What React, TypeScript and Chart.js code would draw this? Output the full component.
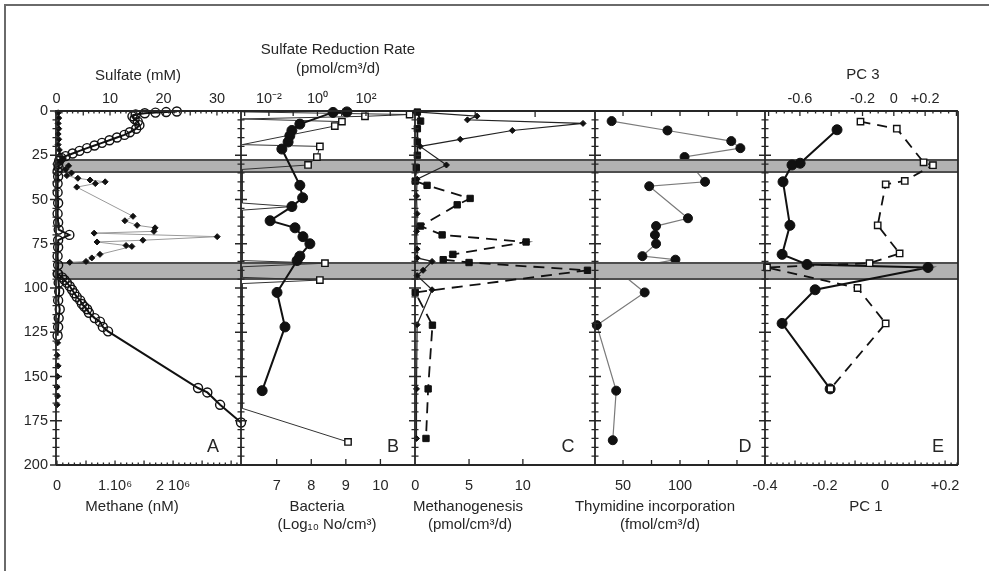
import React, { useEffect, useRef } from "react";
import { Chart, registerables } from "chart.js";

Chart.register(...registerables);

const FONT_FAMILY = "'Liberation Sans', Arial, Helvetica, sans-serif";
const INK = "#262626";
const PLOT_TOP = 111;
const PLOT_BOTTOM = 465;
const H = 571;

// ---------------- shared depth axis ----------------
const depthLabels = [0, 25, 50, 75, 100, 125, 150, 175, 200];
const bandTopDepth = [27.7, 85.9];
const bandBottomDepth = [34.5, 94.9];

// ---------------- Panel A ----------------
const sulfateDepth = [0.3, 0.6, 0.9, 1.3, 2.0, 3.0, 4.5, 6.0, 8.0, 10.0, 12.0, 13.5, 15.0, 16.5, 18.0, 19.5, 21.0, 22.5, 24.0, 25.5, 26.5, 28.0, 30.0, 32.0, 34.0, 37.0, 41.0, 46.0, 52.0, 58.0, 63.0, 67.0, 70.0, 73.0, 77.0, 82.0, 87.0, 92.0, 97.0, 102.0, 107.0, 112.0, 117.0, 122.0, 127.0];
const sulfateMM = [22.5, 20.5, 18.5, 16.5, 14.8, 14.2, 14.6, 15.2, 15.5, 14.9, 13.7, 12.7, 11.3, 9.9, 8.5, 7.1, 5.7, 4.3, 3.0, 1.7, 0.9, 0.5, 0.3, 0.4, 0.2, 0.3, 0.2, 0.2, 0.3, 0.2, 0.3, 0.4, 2.4, 0.3, 0.3, 0.2, 0.3, 0.2, 0.4, 0.5, 0.3, 0.6, 0.4, 0.3, 0.2];
const sulfateDeepDepth = [131, 138, 144, 150, 156, 161, 166];
const sulfateDeepMM = [0.2, 0.1, 0.3, 0.2, 0.1, 0.2, 0.1];
const methaneDepth = [92, 94, 95.5, 97, 99, 101, 103, 105, 107, 109, 110.5, 112, 114, 117, 119, 122, 124.5, 156.5, 159, 166, 176];
const methaneNM = [0.02e6, 0.09e6, 0.13e6, 0.17e6, 0.22e6, 0.26e6, 0.3e6, 0.34e6, 0.4e6, 0.43e6, 0.47e6, 0.52e6, 0.55e6, 0.65e6, 0.74e6, 0.79e6, 0.88e6, 2.43e6, 2.59e6, 2.81e6, 3.17e6];
const methane2Depth = [1, 4, 7, 10, 13, 16, 19, 22, 25, 27, 29, 31, 33, 35, 36.5, 38, 39, 40, 41, 43, 59.5, 62, 64.6, 66, 68, 69, 71, 73, 74, 76, 76.5, 81, 83, 85, 85.5];
const methane2NM = [0.02e6, 0.03e6, 0.02e6, 0.03e6, 0.02e6, 0.03e6, 0.02e6, 0.04e6, 0.05e6, 0.1e6, 0.05e6, 0.2e6, 0.15e6, 0.25e6, 0.17e6, 0.36e6, 0.57e6, 0.83e6, 0.66e6, 0.34e6, 1.31e6, 1.17e6, 1.38e6, 1.69e6, 1.67e6, 0.64e6, 2.76e6, 1.48e6, 0.69e6, 1.19e6, 1.29e6, 0.74e6, 0.6e6, 0.5e6, 0.22e6];
const sulfateTickValues = [0, 10, 20, 30];
const methaneTickValues = [0, 1e6, 2e6];
const methaneTickText = ["0", "1.10\u2076", "2 10\u2076"];

// ---------------- Panel B ----------------
const bacteriaDepth = [0.5, 0.8, 7.4, 11, 14, 17.5, 21.5, 42, 49, 54, 62, 66, 71, 75, 82, 84.5, 102.5, 122, 158];
const bacteriaLog = [9.03, 8.63, 7.67, 7.44, 7.38, 7.33, 7.15, 7.67, 7.75, 7.44, 6.81, 7.53, 7.76, 7.96, 7.67, 7.59, 7.01, 7.24, 6.58];
const srrDepth = [0.5, 2, 3, 4.5, 6, 8.5, 19, 20, 26, 30.5, 33, 52, 54, 56, 84.5, 86, 88, 94, 95.5, 97.5, 168, 187];
const srrRate = [8e-4, 6300, 91, 8e-4, 10.2, 5.2, 8e-4, 1.26, 0.95, 0.41, 8e-4, 8e-4, 0.089, 8e-4, 8e-4, 2.04, 8e-4, 8e-4, 1.26, 8e-4, 8e-4, 18.2];
const bacteriaTickValues = [7, 8, 9, 10];
const srrTickValues = [0.01, 1, 100];
const srrTickText = ["10\u207B\u00B2", "10\u2070", "10\u00B2"];

// ---------------- Panel C ----------------
const methanogenesisDepth = [0.6, 5.7, 10, 17.5, 25, 32, 39.6, 42, 49.4, 53, 65, 70, 74, 81, 84, 85.6, 90, 102.5, 121, 157, 185];
const methanogenesisRate = [0.2, 0.5, 0.2, 0.2, 0.2, 0.1, 0, 1.1, 5.1, 3.9, 0.5, 2.5, 10.3, 3.5, 2.6, 5.0, 16.0, 0, 1.6, 1.2, 1.0];
const diamondCDepth = [0.5, 2.9, 5, 7, 11, 16, 20, 30.5, 38.5, 48, 58, 68, 78, 83, 85, 90, 93, 101, 120.7, 157, 185];
const diamondCValue = [0, 1.03, 0.87, 2.8, 1.62, 0.75, 0.08, 0.52, 0.03, 0.02, 0.03, 0.02, 0.03, 0.03, 0.28, 0.13, 0.03, 0.28, 0.03, 0.02, 0.02];
const methanogenesisTickValues = [0, 5, 10];

// ---------------- Panel D ----------------
const thymidineDepth = [5.7, 11, 17, 21, 26, 40, 42.5, 60.6, 65, 70, 75, 82, 84, 90, 102.5, 121, 158, 186];
const thymidineRate = [40, 89, 145, 153, 104, 122, 73, 107, 79, 78, 79, 67, 96, 45, 69, 27, 44, 41];
const thymidineTickValues = [50, 100];

// ---------------- Panel E ----------------
const pc1Depth = [10.6, 29.5, 30.5, 40, 64.6, 81, 86.7, 88.4, 101, 120, 157];
const pc1Value = [-0.16, -0.283, -0.31, -0.34, -0.317, -0.343, -0.26, 0.143, -0.233, -0.343, -0.183];
const pc3Depth = [6, 10, 29, 30.6, 39.5, 41.4, 64.6, 80.5, 86, 88.4, 100, 120, 157];
const pc3Value = [-0.213, 0.019, 0.19, 0.25, 0.07, -0.052, -0.103, 0.037, -0.155, -0.81, -0.232, -0.052, -0.405];
const pc1TickValues = [-0.4, -0.2, 0, 0.2];
const pc1TickText = ["-0.4", "-0.2", "0", "+0.2"];
const pc3TickValues = [-0.6, -0.2, 0, 0.2];
const pc3TickText = ["-0.6", "-0.2", "0", "+0.2"];

// ---------------- helpers ----------------
type Mark = { value: number; len: number };
type AxisSpec = {
  type: "linear" | "logarithmic";
  min: number;
  max: number;
  labels: number[];
  texts?: string[];
  marks: Mark[];
  showLabels?: boolean;
};
type Caption = { text: string; x: number; y: number; size?: number };
type PanelSpec = {
  key: string;
  left: number;
  width: number;
  lm: number;
  rm: number;
  showDepth: boolean;
  last: boolean;
  bandOverData: boolean;
  bottom: AxisSpec;
  top: AxisSpec;
  datasets: any[];
  captions: Caption[];
};

const zip = (depths: number[], values: number[]) => values.map((v, i) => ({ x: v, y: depths[i] }));

function linearMarks(from: number, to: number, step: number, majorEvery: number, minorLen: number, majorLen: number): Mark[] {
  const out: Mark[] = [];
  const n = Math.round((to - from) / step);
  for (let i = 0; i <= n; i++) out.push({ value: from + i * step, len: i % majorEvery === 0 ? majorLen : minorLen });
  return out;
}
function listMarks(values: number[], len: number): Mark[] {
  return values.map((v) => ({ value: v, len }));
}

const OPEN_CIRCLE = { pointStyle: "circle", pointRadius: 4.5, pointBorderWidth: 1.4, pointBackgroundColor: "rgba(255,255,255,0)", pointBorderColor: "#111" };
const FILLED_CIRCLE = { pointStyle: "circle", pointRadius: 5, pointBorderWidth: 1, pointBackgroundColor: "#111", pointBorderColor: "#111" };
const OPEN_SQUARE = { pointStyle: "rect", pointRadius: 4.5, pointBorderWidth: 1.4, pointBackgroundColor: "#fff", pointBorderColor: "#111" };
const FILLED_SQUARE = { pointStyle: "rect", pointRadius: 4.5, pointBorderWidth: 1, pointBackgroundColor: "#111", pointBorderColor: "#111" };
const SMALL_DIAMOND = { pointStyle: "rectRot", pointRadius: 3, pointBorderWidth: 1, pointBackgroundColor: "#111", pointBorderColor: "#111" };

function series(data: any[], xAxisID: string, marker: any, line: any) {
  return { data, xAxisID, yAxisID: "y", showLine: true, tension: 0, clip: false, ...marker, ...line };
}

const PANELS: PanelSpec[] = [
  {
    key: "A",
    left: 0,
    width: 271,
    lm: 56,
    rm: 30,
    showDepth: true,
    last: false,
    bandOverData: false,
    bottom: { type: "linear", min: -0.017e6, max: 3.17e6, labels: methaneTickValues, texts: methaneTickText, marks: linearMarks(0, 3.1e6, 0.1e6, 5, 2.5, 4.5) },
    top: { type: "linear", min: -0.1, max: 34.5, labels: sulfateTickValues, marks: linearMarks(0, 34, 1, 5, 2.5, 4.5) },
    datasets: [
      series(zip(sulfateDepth, sulfateMM), "x2", OPEN_CIRCLE, { borderColor: "#111", borderWidth: 2 }),
      series(zip(methaneDepth, methaneNM), "x", OPEN_CIRCLE, { borderColor: "#111", borderWidth: 2 }),
      series(zip(methane2Depth, methane2NM), "x", SMALL_DIAMOND, { borderColor: "#9a9a9a", borderWidth: 1 }),
      series(zip(sulfateDeepDepth, sulfateDeepMM), "x2", SMALL_DIAMOND, { showLine: false }),
    ],
    captions: [
      { text: "Sulfate (mM)", x: 138, y: 76 },
      { text: "Methane (nM)", x: 132, y: 507 },
      { text: "A", x: 213, y: 447, size: 18 },
    ],
  },
  {
    key: "B",
    left: 201,
    width: 244,
    lm: 40,
    rm: 30,
    showDepth: false,
    last: false,
    bandOverData: false,
    bottom: { type: "linear", min: 5.968, max: 11.0, labels: bacteriaTickValues, marks: listMarks(bacteriaTickValues, 6) },
    top: { type: "logarithmic", min: Math.pow(10, -3.15), max: Math.pow(10, 4.02), labels: srrTickValues, texts: srrTickText, marks: listMarks([1e-3, 1e-2, 1e-1, 1, 10, 100, 1000], 5) },
    datasets: [
      series(zip(bacteriaDepth, bacteriaLog), "x", FILLED_CIRCLE, { borderColor: "#111", borderWidth: 2 }),
      series(zip(srrDepth, srrRate), "x2", { ...OPEN_SQUARE, pointRadius: (c: any) => (c.raw && c.raw.x < 1e-3 ? 0 : 4.5) }, { borderColor: "#333", borderWidth: 1 }),
    ],
    captions: [
      { text: "Sulfate Reduction Rate", x: 338, y: 50 },
      { text: "(pmol/cm\u00B3/d)", x: 338, y: 69 },
      { text: "Bacteria", x: 317, y: 507 },
      { text: "(Log\u2081\u2080 No/cm\u00B3)", x: 327, y: 525 },
      { text: "B", x: 393, y: 447, size: 18 },
    ],
  },
  {
    key: "C",
    left: 375,
    width: 250,
    lm: 40,
    rm: 30,
    showDepth: false,
    last: false,
    bandOverData: false,
    bottom: { type: "linear", min: -0.02, max: 16.7, labels: methanogenesisTickValues, marks: listMarks([5, 10], 6) },
    top: { type: "linear", min: -0.005, max: 3.0, labels: [], marks: listMarks([1, 2], 6), showLabels: false },
    datasets: [
      series(zip(methanogenesisDepth, methanogenesisRate), "x", FILLED_SQUARE, { borderColor: "#111", borderWidth: 1.8, borderDash: [11, 7] }),
      series(zip(diamondCDepth, diamondCValue), "x2", SMALL_DIAMOND, { borderColor: "#222", borderWidth: 1.2 }),
    ],
    captions: [
      { text: "Methanogenesis", x: 468, y: 507 },
      { text: "(pmol/cm\u00B3/d)", x: 470, y: 525 },
      { text: "C", x: 568, y: 447, size: 18 },
    ],
  },
  {
    key: "D",
    left: 555,
    width: 240,
    lm: 40,
    rm: 30,
    showDepth: false,
    last: false,
    bandOverData: true,
    bottom: { type: "linear", min: 25.4, max: 174.6, labels: thymidineTickValues, marks: listMarks([50, 75, 100, 125, 150], 5) },
    top: { type: "linear", min: 25.4, max: 174.6, labels: [], marks: listMarks([50, 75, 100, 125, 150], 5), showLabels: false },
    datasets: [
      series(zip(thymidineDepth, thymidineRate), "x", { ...FILLED_CIRCLE, pointRadius: 4.5 }, { borderColor: "#7a7a7a", borderWidth: 1.2 }),
    ],
    captions: [
      { text: "Thymidine incorporation", x: 655, y: 507 },
      { text: "(fmol/cm\u00B3/d)", x: 660, y: 525 },
      { text: "D", x: 745, y: 447, size: 18 },
    ],
  },
  {
    key: "E",
    left: 725,
    width: 264,
    lm: 40,
    rm: 31,
    showDepth: false,
    last: true,
    bandOverData: false,
    bottom: { type: "linear", min: -0.4, max: 0.243, labels: pc1TickValues, texts: pc1TickText, marks: linearMarks(-0.4, 0.24, 0.02, 5, 2.5, 4.5) },
    top: { type: "linear", min: -0.823, max: 0.41, labels: pc3TickValues, texts: pc3TickText, marks: linearMarks(-0.8, 0.4, 0.05, 4, 2.5, 5) },
    datasets: [
      series(zip(pc3Depth, pc3Value), "x2", OPEN_SQUARE, { borderColor: "#111", borderWidth: 1.8, borderDash: [10, 7] }),
      series(zip(pc1Depth, pc1Value), "x", FILLED_CIRCLE, { borderColor: "#111", borderWidth: 2 }),
    ],
    captions: [
      { text: "PC 3", x: 863, y: 75 },
      { text: "PC 1", x: 866, y: 507 },
      { text: "E", x: 938, y: 447, size: 18 },
    ],
  },
];

function matchLabel(ax: AxisSpec, value: number): string {
  const i = ax.labels.findIndex((l) => Math.abs(l - value) <= 1e-9 * Math.max(1, Math.abs(l)));
  if (i < 0) return "";
  return ax.texts ? ax.texts[i] : String(ax.labels[i]);
}

function xScale(ax: AxisSpec, position: "top" | "bottom", heightPx: number) {
  return {
    type: ax.type,
    position,
    min: ax.min,
    max: ax.max,
    bounds: "data",
    grid: { display: false, drawTicks: false },
    border: { display: false },
    ticks: {
      display: ax.showLabels !== false,
      autoSkip: false,
      maxRotation: 0,
      minRotation: 0,
      padding: position === "top" ? 3 : 12,
      color: INK,
      font: { family: FONT_FAMILY, size: 14.5 },
      callback: (value: any) => matchLabel(ax, Number(value)),
    },
    afterBuildTicks: (s: any) => {
      s.ticks = ax.labels.map((v) => ({ value: v }));
    },
    afterFit: (s: any) => {
      s.height = heightPx;
    },
  };
}

function drawBands(chart: any) {
  const { ctx, chartArea: a } = chart;
  const ys = chart.scales.y;
  ctx.save();
  for (let i = 0; i < bandTopDepth.length; i++) {
    const y0 = ys.getPixelForValue(bandTopDepth[i]);
    const y1 = ys.getPixelForValue(bandBottomDepth[i]);
    ctx.fillStyle = "#b2b2b2";
    ctx.fillRect(a.left, y0, a.right - a.left, y1 - y0);
    ctx.strokeStyle = "#4e4e4e";
    ctx.lineWidth = 2;
    ctx.beginPath();
    ctx.moveTo(a.left, y0);
    ctx.lineTo(a.right, y0);
    ctx.moveTo(a.left, y1);
    ctx.lineTo(a.right, y1);
    ctx.stroke();
  }
  ctx.restore();
}

function decoPlugin(p: PanelSpec) {
  return {
    id: "deco" + p.key,
    beforeDatasetsDraw(chart: any) {
      if (!p.bandOverData) drawBands(chart);
    },
    afterDatasetsDraw(chart: any) {
      if (p.bandOverData) drawBands(chart);
      const { ctx, chartArea: a, scales } = chart;
      ctx.save();
      ctx.strokeStyle = INK;
      ctx.lineWidth = 1.8;
      ctx.beginPath();
      ctx.moveTo(a.left, a.bottom);
      ctx.lineTo(a.left, a.top);
      ctx.lineTo(a.right, a.top);
      ctx.moveTo(a.left, a.bottom);
      ctx.lineTo(a.right, a.bottom);
      if (p.last) {
        ctx.moveTo(a.right, a.top);
        ctx.lineTo(a.right, a.bottom);
      }
      ctx.stroke();
      ctx.lineWidth = 1.3;
      ctx.beginPath();
      for (let d = 0; d <= 200; d += 5) {
        const y = scales.y.getPixelForValue(d);
        const len = d % 25 === 0 ? 6 : 3.5;
        ctx.moveTo(a.left - len, y);
        ctx.lineTo(a.left + len, y);
      }
      for (const m of p.bottom.marks) {
        const x = scales.x.getPixelForValue(m.value);
        ctx.moveTo(x, a.bottom);
        ctx.lineTo(x, a.bottom - m.len);
      }
      for (const m of p.top.marks) {
        const x = scales.x2.getPixelForValue(m.value);
        ctx.moveTo(x, a.top);
        ctx.lineTo(x, a.top + m.len);
      }
      ctx.stroke();
      ctx.fillStyle = INK;
      ctx.textAlign = "center";
      ctx.textBaseline = "middle";
      for (const c of p.captions) {
        ctx.font = `${c.size ?? 15}px ${FONT_FAMILY}`;
        ctx.fillText(c.text, c.x - p.left, c.y);
      }
      ctx.restore();
    },
  };
}

function buildConfig(p: PanelSpec): any {
  return {
    type: "scatter",
    data: { datasets: p.datasets },
    options: {
      animation: false,
      responsive: false,
      maintainAspectRatio: false,
      devicePixelRatio: 1,
      events: [],
      layout: { padding: { left: 0, right: p.rm, top: 0, bottom: 0 } },
      plugins: { legend: { display: false }, tooltip: { enabled: false }, title: { display: false } },
      scales: {
        y: {
          type: "linear",
          position: "left",
          reverse: true,
          min: 0,
          max: 200,
          bounds: "data",
          grid: { display: false, drawTicks: false },
          border: { display: false },
          ticks: { display: p.showDepth, autoSkip: false, padding: 8, color: INK, font: { family: FONT_FAMILY, size: 14.5 } },
          afterBuildTicks: (s: any) => {
            s.ticks = depthLabels.map((v) => ({ value: v }));
          },
          afterFit: (s: any) => {
            s.width = p.lm;
          },
        },
        x: xScale(p.bottom, "bottom", H - PLOT_BOTTOM),
        x2: xScale(p.top, "top", PLOT_TOP),
      },
    },
    plugins: [decoPlugin(p)],
  };
}

function PanelCanvas({ spec }: { spec: PanelSpec }) {
  const ref = useRef<HTMLCanvasElement>(null);
  useEffect(() => {
    const chart = new Chart(ref.current as HTMLCanvasElement, buildConfig(spec));
    return () => chart.destroy();
  }, [spec]);
  return (
    <canvas
      ref={ref}
      width={spec.width}
      height={H}
      style={{ position: "absolute", left: spec.left, top: 0, width: spec.width, height: H }}
    />
  );
}

export default function App() {
  return (
    <div style={{ position: "absolute", left: 0, top: 0, width: 989, height: 571, overflow: "hidden", background: "#fff" }}>
      <div style={{ position: "absolute", left: 4, top: 4, width: 1100, height: 800, borderLeft: "2px solid #6a6a6a", borderTop: "2px solid #6a6a6a" }} />
      {PANELS.map((p) => (
        <PanelCanvas key={p.key} spec={p} />
      ))}
    </div>
  );
}
